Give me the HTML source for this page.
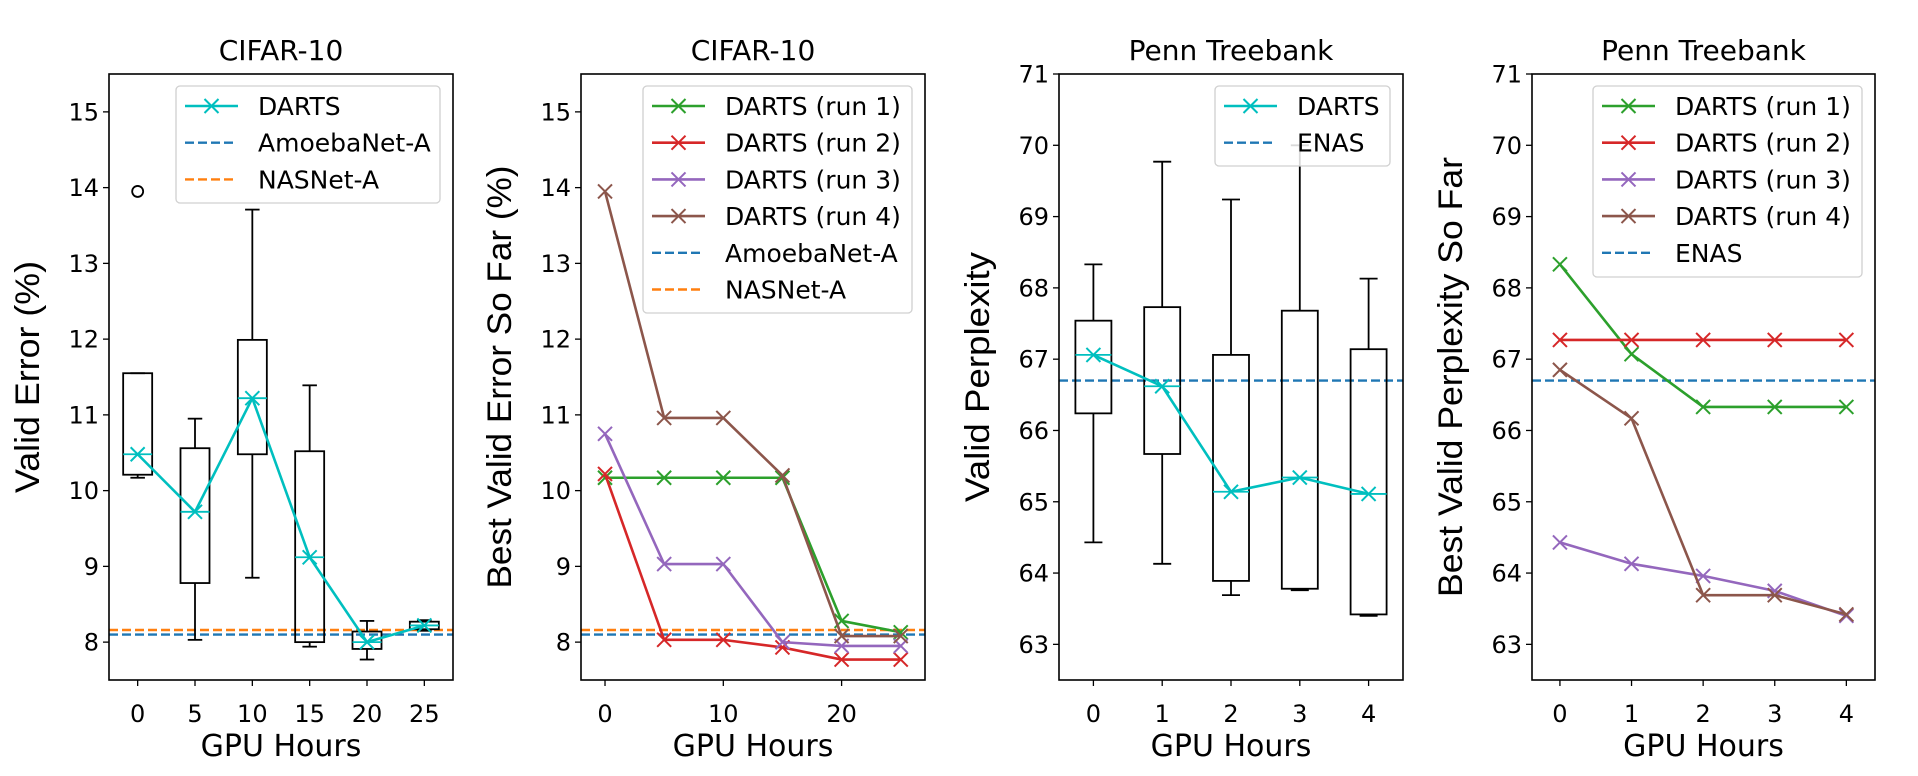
<!DOCTYPE html>
<html><head><meta charset="utf-8">
<style>
html,body{margin:0;padding:0;background:#fff;}
svg{display:block;font-family:"DejaVu Sans","Liberation Sans",sans-serif;}
</style></head>
<body>
<svg id="fig" width="1918" height="776" viewBox="0 0 1918 776" xmlns="http://www.w3.org/2000/svg"></svg>
<script>
// ---------- data ----------
const p1Categories = [0, 5, 10, 15, 20, 25];
const p1BoxLow = [10.17, 8.03, 8.85, 7.94, 7.77, 8.15];
const p1BoxQ1 = [10.21, 8.78, 10.48, 8.0, 7.91, 8.17];
const p1BoxMed = [10.48, 9.72, 11.22, 9.12, 8.0, 8.22];
const p1BoxQ3 = [11.55, 10.56, 11.99, 10.52, 8.14, 8.27];
const p1BoxHigh = [11.55, 10.95, 13.71, 11.39, 8.28, 8.29];
const p1Outliers = [13.95, null, null, null, null, null];
const p1Amoeba = 8.1;
const p1NASNet = 8.16;
const p1YTicks = [8, 9, 10, 11, 12, 13, 14, 15];
const p1XTicks = [0, 5, 10, 15, 20, 25];

const p2Categories = [0, 5, 10, 15, 20, 25];
const p2Run1 = [10.17, 10.17, 10.17, 10.17, 8.28, 8.13];
const p2Run2 = [10.22, 8.03, 8.03, 7.93, 7.77, 7.77];
const p2Run3 = [10.75, 9.03, 9.03, 8.0, 7.95, 7.95];
const p2Run4 = [13.95, 10.96, 10.96, 10.2, 8.08, 8.08];
const p2Amoeba = 8.1;
const p2NASNet = 8.16;
const p2YTicks = [8, 9, 10, 11, 12, 13, 14, 15];
const p2XTicks = [0, 10, 20];

const p3Categories = [0, 1, 2, 3, 4];
const p3BoxLow = [64.43, 64.13, 63.69, 63.76, 63.4];
const p3BoxQ1 = [66.24, 65.67, 63.89, 63.78, 63.42];
const p3BoxMed = [67.06, 66.62, 65.14, 65.34, 65.11];
const p3BoxQ3 = [67.54, 67.73, 67.06, 67.68, 67.14];
const p3BoxHigh = [68.33, 69.77, 69.24, 70.0, 68.13];
const p3ENAS = 66.7;
const p3YTicks = [63, 64, 65, 66, 67, 68, 69, 70, 71];
const p3XTicks = [0, 1, 2, 3, 4];

const p4Categories = [0, 1, 2, 3, 4];
const p4Run1 = [68.33, 67.07, 66.33, 66.33, 66.33];
const p4Run2 = [67.27, 67.27, 67.27, 67.27, 67.27];
const p4Run3 = [64.43, 64.13, 63.96, 63.75, 63.4];
const p4Run4 = [66.85, 66.17, 63.69, 63.69, 63.42];
const p4ENAS = 66.7;
const p4YTicks = [63, 64, 65, 66, 67, 68, 69, 70, 71];
const p4XTicks = [0, 1, 2, 3, 4];

// ---------- helpers ----------
const NS = "http://www.w3.org/2000/svg";
const svg = document.getElementById("fig");
function mk(tag, attrs, parent) {
  const e = document.createElementNS(NS, tag);
  for (const k in attrs) e.setAttribute(k, attrs[k]);
  (parent || svg).appendChild(e);
  return e;
}
function axes(left, right, top, bottom, x0, x1, y0, y1) {
  return {
    left, right, top, bottom,
    sx: v => left + (v - x0) / (x1 - x0) * (right - left),
    sy: v => bottom - (v - y0) / (y1 - y0) * (bottom - top)
  };
}
function cross(g, x, y, color, s) {
  mk("path", {d: `M${x-s},${y-s}L${x+s},${y+s}M${x-s},${y+s}L${x+s},${y-s}`, stroke: color, "stroke-width": 2, fill: "none"}, g);
}
function frame(ax, title, xlabel, ylabel, ylabelLen, xticks, yticks) {
  const t = mk("text", {x: (ax.left + ax.right) / 2, y: 60, "text-anchor": "middle", "font-size": 28});
  t.textContent = title;
  
  
  const xl = mk("text", {x: (ax.left + ax.right) / 2, y: 756, "text-anchor": "middle", "font-size": 30});
  xl.textContent = xlabel;
  
  
  const cy = 377, cx = ax.left - 70;
  const yl = mk("text", {x: cx, y: cy, "text-anchor": "middle", "font-size": 34, transform: `rotate(-90 ${cx} ${cy})`, textLength: ylabelLen, lengthAdjust: "spacingAndGlyphs", "font-family": "Liberation Sans Narrow, Liberation Sans, sans-serif"});
  yl.textContent = ylabel;
  
  
  xticks.forEach(v => {
    const x = ax.sx(v);
    mk("line", {x1: x, x2: x, y1: ax.bottom, y2: ax.bottom + 6, stroke: "#000", "stroke-width": 1.3});
    const tl = mk("text", {x: x, y: 722, "text-anchor": "middle", "font-size": 24});
    tl.textContent = v;
    
    
  });
  yticks.forEach(v => {
    const y = ax.sy(v);
    mk("line", {x1: ax.left - 6, x2: ax.left, y1: y, y2: y, stroke: "#000", "stroke-width": 1.3});
    const tl = mk("text", {x: ax.left - 10, y: y + 8.5, "text-anchor": "end", "font-size": 24});
    tl.textContent = v;
    
    
  });
}
function border(ax) {
  const r = mk("rect", {x: ax.left, y: ax.top, width: ax.right - ax.left, height: ax.bottom - ax.top, fill: "none", stroke: "#000", "stroke-width": 1.6});
  
  
}
function hline(ax, v, color, name) {
  const y = ax.sy(v);
  const l = mk("line", {x1: ax.left, x2: ax.right, y1: y, y2: y, stroke: color, "stroke-width": 2.4, "stroke-dasharray": "9,4"});
  
  
}
function series(ax, xs, ys, color, name) {
  const g = mk("g", {});
  
  
  const pts = xs.map((x, i) => ax.sx(x) + "," + ax.sy(ys[i])).join(" ");
  mk("polyline", {points: pts, fill: "none", stroke: color, "stroke-width": 2.6, "stroke-linejoin": "round"}, g);
  xs.forEach((x, i) => cross(g, ax.sx(x), ax.sy(ys[i]), color, 7));
}
function boxes(ax, cats, low, q1, med, q3, high, halfW, name) {
  cats.forEach((c, i) => {
    const g = mk("g", {});
    
    
    const x = ax.sx(c);
    const capW = halfW / 2;
    mk("rect", {x: x - halfW, y: ax.sy(q3[i]), width: 2 * halfW, height: ax.sy(q1[i]) - ax.sy(q3[i]), fill: "none", stroke: "#000", "stroke-width": 1.8}, g);
    mk("line", {x1: x, x2: x, y1: ax.sy(q3[i]), y2: ax.sy(high[i]), stroke: "#000", "stroke-width": 1.8}, g);
    mk("line", {x1: x, x2: x, y1: ax.sy(q1[i]), y2: ax.sy(low[i]), stroke: "#000", "stroke-width": 1.8}, g);
    mk("line", {x1: x - capW, x2: x + capW, y1: ax.sy(high[i]), y2: ax.sy(high[i]), stroke: "#000", "stroke-width": 1.8}, g);
    mk("line", {x1: x - capW, x2: x + capW, y1: ax.sy(low[i]), y2: ax.sy(low[i]), stroke: "#000", "stroke-width": 1.8}, g);
    mk("line", {x1: x - halfW, x2: x + halfW, y1: ax.sy(med[i]), y2: ax.sy(med[i]), stroke: "#00bfbf", "stroke-width": 1.8}, g);
  });
}
function legend(x, y, w, h, entries) {
  const g = mk("g", {});
  
  
  mk("rect", {x: x, y: y, width: w, height: h, rx: 4, fill: "#fff", "fill-opacity": 0.85, stroke: "#d0d0d0", "stroke-width": 1.3}, g);
  entries.forEach((e, i) => {
    const ey = y + 20 + i * 36.7;
    const eg = mk("g", {}, g);
    
    
    if (e.dash) {
      mk("line", {x1: x + 9, x2: x + 61, y1: ey, y2: ey, stroke: e.color, "stroke-width": 2.4, "stroke-dasharray": "9,4"}, eg);
    } else {
      mk("line", {x1: x + 9, x2: x + 62, y1: ey, y2: ey, stroke: e.color, "stroke-width": 2.6}, eg);
      cross(eg, x + 35.5, ey, e.color, 7);
    }
    const t = mk("text", {x: x + 82, y: ey + 9, "font-size": 25}, eg);
    t.textContent = e.label;
  });
}

// ---------- panel 1 ----------
const a1 = axes(109, 453, 74, 680, -2.5, 27.5, 7.5, 15.5);
hline(a1, p1Amoeba, "#1f77b4", "amoebanet-line");
hline(a1, p1NASNet, "#ff7f0e", "nasnet-line");
boxes(a1, p1Categories, p1BoxLow, p1BoxQ1, p1BoxMed, p1BoxQ3, p1BoxHigh, 14.5, "box");
p1Outliers.forEach((v, i) => {
  if (v === null) return;
  const o = mk("circle", {cx: a1.sx(p1Categories[i]), cy: a1.sy(v), r: 5.5, fill: "none", stroke: "#000", "stroke-width": 1.8});
  
  
});
series(a1, p1Categories, p1BoxMed, "#00bfbf", "darts-median-line");
border(a1);
frame(a1, "CIFAR-10", "GPU Hours", "Valid Error (%)", 232, p1XTicks, p1YTicks);
legend(176, 86, 264, 117, [
  {label: "DARTS", color: "#00bfbf"},
  {label: "AmoebaNet-A", color: "#1f77b4", dash: true},
  {label: "NASNet-A", color: "#ff7f0e", dash: true}]);

// ---------- panel 2 ----------
const a2 = axes(581, 925, 74, 680, -2.03, 27.05, 7.5, 15.5);
hline(a2, p2Amoeba, "#1f77b4", "amoebanet-line");
hline(a2, p2NASNet, "#ff7f0e", "nasnet-line");
series(a2, p2Categories, p2Run1, "#2ca02c", "darts-run1-line");
series(a2, p2Categories, p2Run2, "#d62728", "darts-run2-line");
series(a2, p2Categories, p2Run3, "#9467bd", "darts-run3-line");
series(a2, p2Categories, p2Run4, "#8c564b", "darts-run4-line");
border(a2);
frame(a2, "CIFAR-10", "GPU Hours", "Best Valid Error So Far (%)", 423, p2XTicks, p2YTicks);
legend(643, 86, 269, 227, [
  {label: "DARTS (run 1)", color: "#2ca02c"},
  {label: "DARTS (run 2)", color: "#d62728"},
  {label: "DARTS (run 3)", color: "#9467bd"},
  {label: "DARTS (run 4)", color: "#8c564b"},
  {label: "AmoebaNet-A", color: "#1f77b4", dash: true},
  {label: "NASNet-A", color: "#ff7f0e", dash: true}]);

// ---------- panel 3 ----------
const a3 = axes(1059, 1403, 74, 680, -0.5, 4.5, 62.5, 71);
hline(a3, p3ENAS, "#1f77b4", "enas-line");
boxes(a3, p3Categories, p3BoxLow, p3BoxQ1, p3BoxMed, p3BoxQ3, p3BoxHigh, 18, "box");
series(a3, p3Categories, p3BoxMed, "#00bfbf", "darts-median-line");
border(a3);
frame(a3, "Penn Treebank", "GPU Hours", "Valid Perplexity", 250, p3XTicks, p3YTicks);
legend(1215, 86, 175, 80, [
  {label: "DARTS", color: "#00bfbf"},
  {label: "ENAS", color: "#1f77b4", dash: true}]);

// ---------- panel 4 ----------
const a4 = axes(1532, 1875, 74, 680, -0.39, 4.4, 62.5, 71);
hline(a4, p4ENAS, "#1f77b4", "enas-line");
series(a4, p4Categories, p4Run1, "#2ca02c", "darts-run1-line");
series(a4, p4Categories, p4Run2, "#d62728", "darts-run2-line");
series(a4, p4Categories, p4Run3, "#9467bd", "darts-run3-line");
series(a4, p4Categories, p4Run4, "#8c564b", "darts-run4-line");
border(a4);
frame(a4, "Penn Treebank", "GPU Hours", "Best Valid Perplexity So Far", 440, p4XTicks, p4YTicks);
legend(1593, 86, 269, 191, [
  {label: "DARTS (run 1)", color: "#2ca02c"},
  {label: "DARTS (run 2)", color: "#d62728"},
  {label: "DARTS (run 3)", color: "#9467bd"},
  {label: "DARTS (run 4)", color: "#8c564b"},
  {label: "ENAS", color: "#1f77b4", dash: true}]);
</script>
</body></html>
